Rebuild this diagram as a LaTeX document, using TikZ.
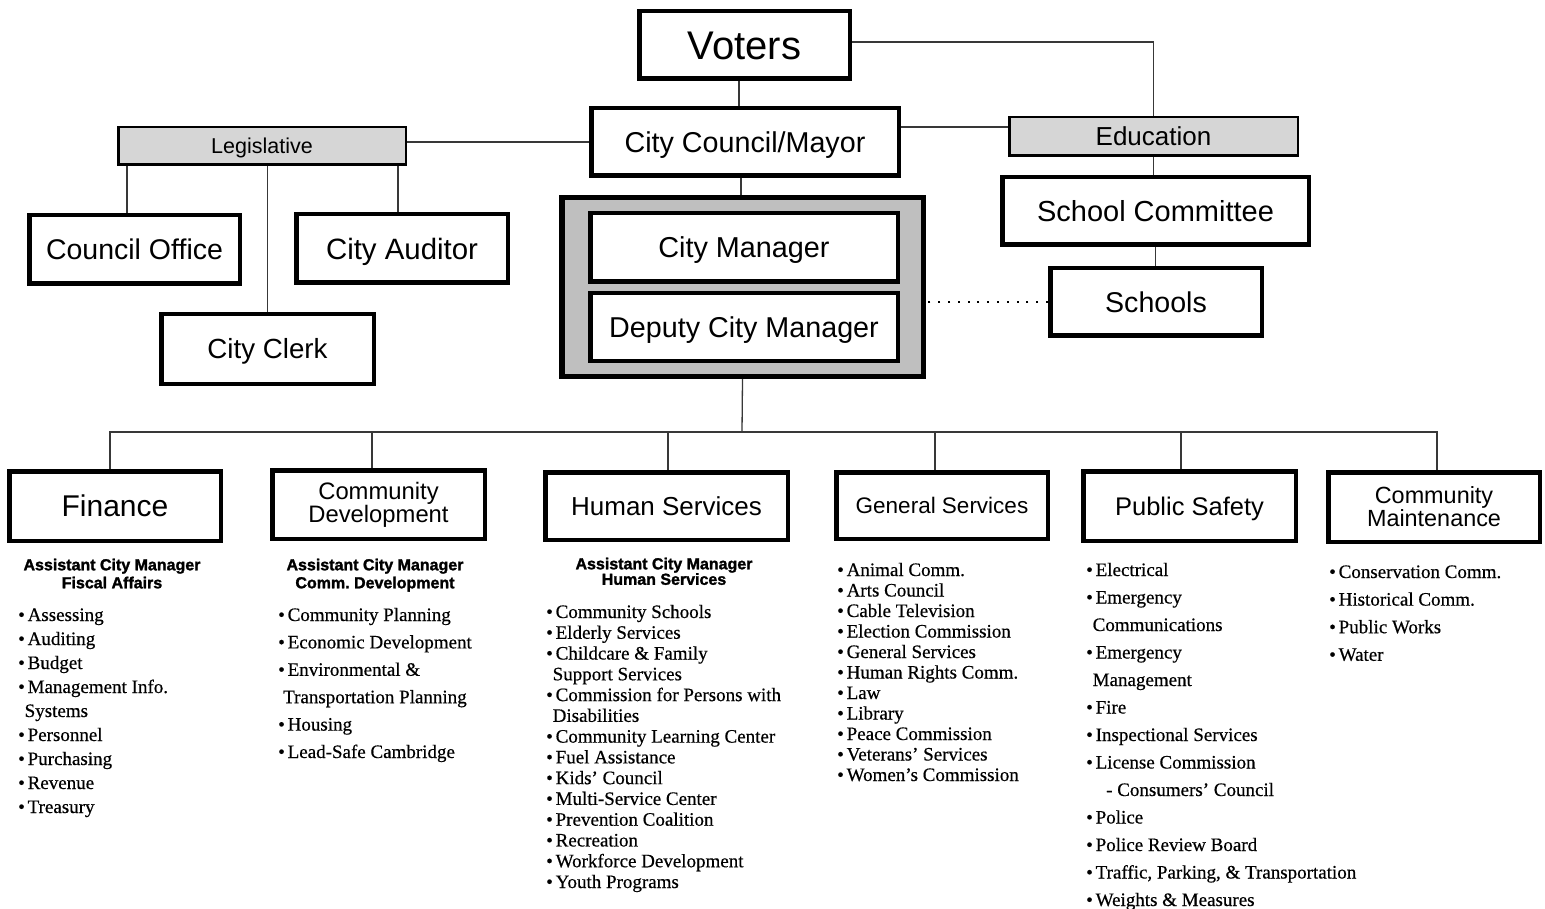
\documentclass[tikz,border=0pt]{standalone}
\usepackage{fontspec}
\setmainfont{Liberation Sans}
\newfontfamily\lserif{Liberation Serif}[FakeBold=0.5]
\newfontfamily\heavy{Liberation Sans}[UprightFont={* Bold}, FakeBold=1.6]
\usetikzlibrary{calc}
\definecolor{labelgray}{gray}{0.84}
\definecolor{groupgray}{gray}{0.75}
\definecolor{linkgray}{gray}{0.22}
\newcommand\fsz[1]{\fontsize{#1}{#1}\selectfont}
\newcommand\bu{\makebox[9.5pt][l]{\textbullet}}
\newcommand\ct{\hspace*{6.5pt}}

\begin{document}
\begin{tikzpicture}[x=1pt,y=-1pt,
  % font size with the cap height used as text height, so capitals sit centred
  fs/.style={font=\fsz{#1}, text height={0.716*#1}, text depth=0pt},
  box/.style={draw=black, line width=4.5pt, fill=white, inner sep=0pt},
  twoline/.style={draw=black, line width=4.5pt, fill=white, inner sep=0pt, align=center},
  tag/.style={draw=black, line width=2.5pt, fill=labelgray, inner sep=0pt},
  link/.style={draw=linkgray, line width=1.3pt},
  dots/.style={draw=black, line width=2pt, dash pattern=on 2pt off 7.8pt},
  item/.style={anchor=base west, inner sep=0pt, font={\lserif\fsz{19}}},
  head/.style={anchor=north, inner sep=0pt, align=center,
               font={\heavy\fontsize{16}{18}\selectfont}},
]
\useasboundingbox (0,0) rectangle (1545,909);

% ---- top of the organisation
\node[box, minimum width=210.5, minimum height=67.5, fs=40] (voters) at (744.5,45) {Voters};
\node[box, minimum width=307.5, minimum height=67.5, fs=28.7] (council) at (745,142) {City Council/Mayor};

% legislative branch
\node[tag, minimum width=287.5, minimum height=37.5, fs=21.5] (legis) at (262,146) {Legislative};
\node[box, minimum width=210.5, minimum height=68.5, fs=28.5] (office) at (134.5,249.5) {Council Office};
\node[box, minimum width=211.5, minimum height=68.5, fs=29.4] (auditor) at (402,248.5) {City Auditor};
\node[box, minimum width=212.5, minimum height=69.5, fs=27.7] (clerk) at (267.5,349) {City Clerk};

% city manager group
\node[draw=black, line width=5.5pt, fill=groupgray, inner sep=0pt,
      minimum width=361.5, minimum height=178.5] (group) at (742.5,287) {};
\node[box, minimum width=307.5, minimum height=68.5, fs=28.8] (manager) at (744,247.5) {City Manager};
\node[box, minimum width=307.5, minimum height=67.5, fs=28.7] (deputy) at (744,327) {Deputy City Manager};

% education branch
\node[tag, minimum width=288.5, minimum height=38.5, fs=26] (education) at (1153.5,136.5) {Education};
\node[box, minimum width=306.5, minimum height=67.5, fs=29] (committee) at (1155.5,211) {School Committee};
\node[box, minimum width=211.5, minimum height=67.5, fs=28.6] (schools) at (1156,302) {Schools};

% departments
\node[box, minimum width=211.5, minimum height=69.5, fs=30] (fin) at (115,506) {Finance};
\node[twoline, minimum width=212.5, minimum height=68.5, font={\fontsize{23.8}{23}\selectfont}] (cd) at (378.5,504.5) {Community\\Development};
\node[box, minimum width=242.5, minimum height=67.5, fs=26] (hs) at (666.5,506) {Human Services};
\node[box, minimum width=211.5, minimum height=66.5, fs=22.5] (gs) at (942,505.5) {General Services};
\node[box, minimum width=212.5, minimum height=69.5, fs=25.5] (ps) at (1189.5,506) {Public Safety};
\node[twoline, minimum width=211.5, minimum height=69.5, font={\fontsize{23.4}{23}\selectfont}] (cm) at (1434,507) {Community\\Maintenance};

% ---- connectors
\draw[link] ([xshift=-5.5pt]voters.south) -- ([xshift=-5.5pt]voters.south |- council.north);
\draw[link] ([yshift=3pt]voters.east) -| (education.north);
\draw[link] ([yshift=-21pt]council.north east) -- ([yshift=-21pt]council.north east -| education.west);
\draw[link] (council.west) -- (council.west -| legis.east);
\draw[link] ([xshift=-7.5pt]office.north) -- ([xshift=-7.5pt]office.north |- legis.south);
\draw[link] ([xshift=-4pt]auditor.north) -- ([xshift=-4pt]auditor.north |- legis.south);
\draw[link] (clerk.north) -- (clerk.north |- legis.south);
\draw[link] ([xshift=-4pt]council.south) -- ([xshift=-4pt]council.south |- group.north);
\draw[link] (education.south) -- (education.south |- committee.north);
\draw[link] (committee.south) -- (committee.south |- schools.north);
\draw[dots] (schools.west) -- (schools.west -| group.east);

\coordinate (bus) at (742,432);
\draw[link] (group.south) -- (bus);
\draw[link] ([xshift=-5pt]fin.north) |- ([xshift=3pt]cm.north |- bus) -- ([xshift=3pt]cm.north);
\foreach \n/\s in {cd/-6.5, hs/1.5, gs/-7, ps/-8.5}
  \draw[link] ([xshift=\s pt]\n.north) -- ([xshift=\s pt]\n.north |- bus);

% ---- assistant city manager headings
\node[head] (finhead) at (112,558.5) {Assistant City Manager\\Fiscal Affairs};
\node[head] (cdhead) at (375,558.5) {Assistant City Manager\\Comm.\ Development};
\node[head, font={\heavy\fontsize{16}{15.5}\selectfont}] (hshead) at (664,557.5) {Assistant City Manager\\Human Services};

% ---- service lists
\foreach \txt [count=\i from 0] in {\bu Assessing, \bu Auditing, \bu Budget,
    \bu Management Info., \ct Systems, \bu Personnel, \bu Purchasing,
    \bu Revenue, \bu Treasury}
  \node[item] (fin-\i) at (18,621+24*\i) {\txt};

\foreach \txt [count=\i from 0] in {\bu Community Planning, \bu Economic Development,
    {\bu Environmental \&}, \hspace*{5pt}Transportation Planning, \bu Housing,
    \bu Lead-Safe Cambridge}
  \node[item] (cd-\i) at (278,621+27.4*\i) {\txt};

\foreach \txt [count=\i from 0] in {\bu Community Schools, \bu Elderly Services,
    {\bu Childcare \& Family}, \ct Support Services, \bu Commission for Persons with,
    \ct Disabilities, \bu Community Learning Center, \bu Fuel Assistance,
    \bu Kids’ Council, \bu Multi-Service Center, \bu Prevention Coalition,
    \bu Recreation, \bu Workforce Development, \bu Youth Programs}
  \node[item] (hs-\i) at (546,618+20.77*\i) {\txt};

\foreach \txt [count=\i from 0] in {\bu Animal Comm., \bu Arts Council,
    \bu Cable Television, \bu Election Commission, \bu General Services,
    \bu Human Rights Comm., \bu Law, \bu Library, \bu Peace Commission,
    \bu Veterans’ Services, \bu Women’s Commission}
  \node[item] (gs-\i) at (837,576+20.5*\i) {\txt};

\foreach \txt [count=\i from 0] in {\bu Electrical, \bu Emergency, \ct Communications,
    \bu Emergency, \ct Management, \bu Fire, \bu Inspectional Services,
    \bu License Commission, \hspace*{20pt}- Consumers’ Council, \bu Police,
    \bu Police Review Board, {\bu Traffic, Parking, \& Transportation},
    {\bu Weights \& Measures}}
  \node[item] (ps-\i) at (1086,576+27.5*\i) {\txt};

\foreach \txt [count=\i from 0] in {\bu Conservation Comm., \bu Historical Comm.,
    \bu Public Works, \bu Water}
  \node[item] (cm-\i) at (1329,578+27.6*\i) {\txt};
\end{tikzpicture}
\end{document}
